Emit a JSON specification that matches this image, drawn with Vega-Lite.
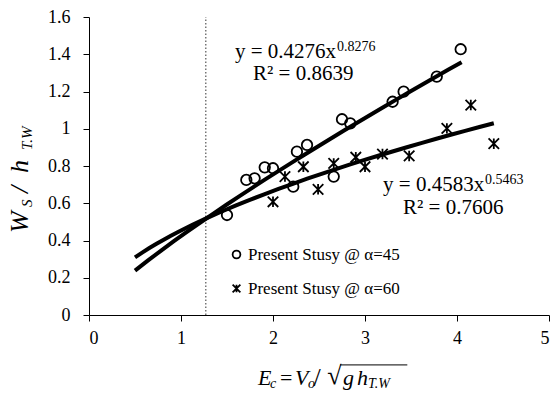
{
  "$schema": "https://vega.github.io/schema/vega-lite/v6.json",
  "width": 460,
  "height": 298,
  "autosize": "none",
  "padding": {"left": 89, "top": 17, "right": 7, "bottom": 81},
  "background": "white",
  "config": {
    "view": {"stroke": null},
    "axis": {
      "labelFont": "Liberation Serif",
      "labelFontSize": 18,
      "labelColor": "black",
      "tickColor": "black",
      "domainColor": "black",
      "tickSize": 6,
      "grid": false,
      "labelOverlap": false,
      "title": null
    }
  },
  "datasets": {
    "pts": [
      {"x": 1.50, "y": 0.537, "s": "Present Stusy @ α=45"},
      {"x": 1.71, "y": 0.725, "s": "Present Stusy @ α=45"},
      {"x": 1.80, "y": 0.734, "s": "Present Stusy @ α=45"},
      {"x": 1.91, "y": 0.793, "s": "Present Stusy @ α=45"},
      {"x": 2.00, "y": 0.788, "s": "Present Stusy @ α=45"},
      {"x": 2.22, "y": 0.689, "s": "Present Stusy @ α=45"},
      {"x": 2.26, "y": 0.877, "s": "Present Stusy @ α=45"},
      {"x": 2.37, "y": 0.913, "s": "Present Stusy @ α=45"},
      {"x": 2.66, "y": 0.743, "s": "Present Stusy @ α=45"},
      {"x": 2.75, "y": 1.051, "s": "Present Stusy @ α=45"},
      {"x": 2.84, "y": 1.029, "s": "Present Stusy @ α=45"},
      {"x": 3.30, "y": 1.145, "s": "Present Stusy @ α=45"},
      {"x": 3.42, "y": 1.199, "s": "Present Stusy @ α=45"},
      {"x": 3.78, "y": 1.280, "s": "Present Stusy @ α=45"},
      {"x": 4.04, "y": 1.427, "s": "Present Stusy @ α=45"},
      {"x": 2.00, "y": 0.608, "s": "Present Stusy @ α=60"},
      {"x": 2.13, "y": 0.743, "s": "Present Stusy @ α=60"},
      {"x": 2.33, "y": 0.796, "s": "Present Stusy @ α=60"},
      {"x": 2.49, "y": 0.675, "s": "Present Stusy @ α=60"},
      {"x": 2.66, "y": 0.814, "s": "Present Stusy @ α=60"},
      {"x": 2.90, "y": 0.847, "s": "Present Stusy @ α=60"},
      {"x": 3.00, "y": 0.796, "s": "Present Stusy @ α=60"},
      {"x": 3.19, "y": 0.864, "s": "Present Stusy @ α=60"},
      {"x": 3.48, "y": 0.854, "s": "Present Stusy @ α=60"},
      {"x": 3.89, "y": 1.002, "s": "Present Stusy @ α=60"},
      {"x": 4.15, "y": 1.127, "s": "Present Stusy @ α=60"},
      {"x": 4.40, "y": 0.920, "s": "Present Stusy @ α=60"}
    ],
    "eqMain": [
      {"x": 1.587, "y": 1.414, "t": "y = 0.4276x"},
      {"x": 1.783, "y": 1.296, "t": "R² = 0.8639"},
      {"x": 3.196, "y": 0.698, "t": "y = 0.4583x"},
      {"x": 3.413, "y": 0.574, "t": "R² = 0.7606"}
    ],
    "eqSup": [
      {"x": 2.696, "y": 1.44, "t": "0.8276"},
      {"x": 4.304, "y": 0.725, "t": "0.5463"}
    ],
    "xtMain": [
      {"x": 1.837, "y": -0.338, "t": "E"},
      {"x": 2.239, "y": -0.338, "t": "V"},
      {"x": 2.761, "y": -0.338, "t": "g"},
      {"x": 2.913, "y": -0.338, "t": "h"}
    ],
    "xtSub": [
      {"x": 1.967, "y": -0.37, "t": "c"},
      {"x": 2.380, "y": -0.37, "t": "o"},
      {"x": 3.033, "y": -0.37, "t": "T.W"}
    ],
    "xtUp": [
      {"x": 2.076, "y": -0.338, "t": "="}
    ],
    "xtBig": [
      {"x": 2.44, "y": -0.338, "t": "/"},
      {"x": 2.59, "y": -0.33, "t": "√"}
    ],
    "ytMain": [
      {"x": -0.75, "y": 0.44, "t": "W"},
      {"x": -0.75, "y": 0.655, "t": "/"},
      {"x": -0.75, "y": 0.762, "t": "h"}
    ],
    "ytSub": [
      {"x": -0.67, "y": 0.58, "t": "S"},
      {"x": -0.67, "y": 0.886, "t": "T.W"}
    ]
  },
  "encoding": {
    "x": {
      "field": "x", "type": "quantitative",
      "scale": {"domain": [0, 5]},
      "axis": {"values": [0, 1, 2, 3, 4, 5], "format": "~g", "labelPadding": 8}
    },
    "y": {
      "field": "y", "type": "quantitative",
      "scale": {"domain": [0, 1.6]},
      "axis": {"values": [0, 0.2, 0.4, 0.6, 0.8, 1, 1.2, 1.4, 1.6], "format": "~g", "labelPadding": 13}
    }
  },
  "layer": [
    {
      "data": {"values": [{"x": 1.27, "y": 0, "y2": 1.6}]},
      "mark": {"type": "rule", "strokeDash": [1.5, 2], "strokeWidth": 1, "color": "#333333"},
      "encoding": {"y2": {"field": "y2"}}
    },
    {
      "data": {"name": "pts"},
      "transform": [
        {"filter": "datum.s === 'Present Stusy @ α=45'"},
        {"regression": "y", "on": "x", "method": "pow", "extent": [0.5, 4.05]}
      ],
      "mark": {"type": "line", "color": "black", "strokeWidth": 4},
      "encoding": {}
    },
    {
      "data": {"name": "pts"},
      "transform": [
        {"filter": "datum.s === 'Present Stusy @ α=60'"},
        {"regression": "y", "on": "x", "method": "pow", "extent": [0.5, 4.4]}
      ],
      "mark": {"type": "line", "color": "black", "strokeWidth": 4},
      "encoding": {}
    },
    {
      "data": {"name": "pts"},
      "mark": {"type": "point", "filled": false, "color": "black", "strokeWidth": 1.8, "size": 110, "opacity": 1},
      "encoding": {
        "shape": {
          "field": "s", "type": "nominal",
          "scale": {
            "domain": ["Present Stusy @ α=45", "Present Stusy @ α=60"],
            "range": ["circle", "M-1,-1L1,1M1,-1L-1,1M0,-1L0,1"]
          },
          "legend": {
            "orient": "none",
            "legendX": 139,
            "legendY": 229,
            "title": null,
            "labelFont": "Liberation Serif",
            "labelFontSize": 17,
            "labelLimit": 400,
            "labelColor": "black",
            "symbolSize": 60,
            "symbolStrokeWidth": 1.8,
            "symbolStrokeColor": "black",
            "labelOffset": 3,
            "rowPadding": 16,
            "padding": 0
          }
        }
      }
    },
    {
      "data": {"name": "eqMain"},
      "mark": {"type": "text", "align": "left", "baseline": "middle", "font": "Liberation Serif", "fontSize": 21, "color": "black"},
      "encoding": {"text": {"field": "t"}}
    },
    {
      "data": {"name": "eqSup"},
      "mark": {"type": "text", "align": "left", "baseline": "middle", "font": "Liberation Serif", "fontSize": 14, "color": "black"},
      "encoding": {"text": {"field": "t"}}
    },
    {
      "data": {"name": "xtMain"},
      "mark": {"type": "text", "align": "left", "baseline": "middle", "font": "Liberation Serif", "fontStyle": "italic", "fontSize": 22, "color": "black"},
      "encoding": {"text": {"field": "t"}}
    },
    {
      "data": {"name": "xtSub"},
      "mark": {"type": "text", "align": "left", "baseline": "middle", "font": "Liberation Serif", "fontStyle": "italic", "fontSize": 14, "color": "black"},
      "encoding": {"text": {"field": "t"}}
    },
    {
      "data": {"name": "xtUp"},
      "mark": {"type": "text", "align": "left", "baseline": "middle", "font": "Liberation Serif", "fontSize": 22, "color": "black"},
      "encoding": {"text": {"field": "t"}}
    },
    {
      "data": {"name": "xtBig"},
      "mark": {"type": "text", "align": "left", "baseline": "middle", "font": "Liberation Serif", "fontSize": 26, "color": "black"},
      "encoding": {"text": {"field": "t"}}
    },
    {
      "data": {"values": [{"x": 2.73, "x2": 3.46, "y": -0.268}]},
      "mark": {"type": "rule", "color": "black", "strokeWidth": 1},
      "encoding": {"x2": {"field": "x2"}}
    },
    {
      "data": {"name": "ytMain"},
      "mark": {"type": "text", "align": "left", "baseline": "middle", "angle": 270, "font": "Liberation Serif", "fontStyle": "italic", "fontSize": 26, "color": "black"},
      "encoding": {"text": {"field": "t"}}
    },
    {
      "data": {"name": "ytSub"},
      "mark": {"type": "text", "align": "left", "baseline": "middle", "angle": 270, "font": "Liberation Serif", "fontStyle": "italic", "fontSize": 15, "color": "black"},
      "encoding": {"text": {"field": "t"}}
    }
  ]
}
